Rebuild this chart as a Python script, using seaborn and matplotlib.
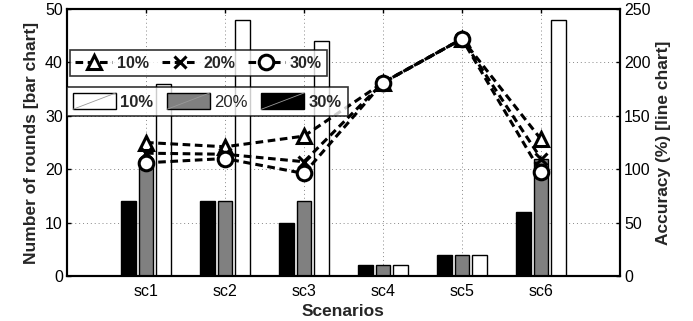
import numpy as np
import pandas as pd
import matplotlib
matplotlib.use("Agg")
import matplotlib.pyplot as plt
import seaborn as sns
from matplotlib.legend_handler import HandlerBase
from matplotlib.patches import Rectangle
from matplotlib.lines import Line2D

# ---- data -------------------------------------------------------------
scenarios = ["sc1", "sc2", "sc3", "sc4", "sc5", "sc6"]
loss_levels = ["10%", "20%", "30%"]

rounds_10 = [36, 48, 44, 2, 4, 48]
rounds_20 = [22, 14, 14, 2, 4, 22]
rounds_30 = [14, 14, 10, 2, 4, 12]

acc_10 = [125, 121, 131, 181, 222, 128]
acc_20 = [115, 114, 107, 181, 222, 110]
acc_30 = [106, 110, 96, 181, 222, 97]

# ---- style ------------------------------------------------------------
sns.set_theme(style="white")
plt.rcParams["font.family"] = ["Liberation Sans", "DejaVu Sans"]
plt.rcParams["font.size"] = 11

bar_colors = {"30%": "black", "20%": "#808080", "10%": "white"}

bars = pd.DataFrame({
    "Scenario": scenarios * 3,
    "Rounds": rounds_30 + rounds_20 + rounds_10,
    "Loss": ["30%"] * 6 + ["20%"] * 6 + ["10%"] * 6,
})

fig = plt.figure(figsize=(6.93, 3.21), dpi=100)
ax = fig.add_axes([67 / 693, 45 / 321, 553 / 693, 267 / 321])

sns.barplot(data=bars, x="Scenario", y="Rounds", hue="Loss",
            hue_order=["30%", "20%", "10%"], palette=bar_colors,
            width=0.66, gap=0.18, saturation=1, edgecolor="black",
            linewidth=1.0, legend=False, ax=ax, zorder=2)

ax.set_xlim(-1, 6)
ax.set_ylim(0, 50)
ax.set_yticks([0, 10, 20, 30, 40, 50])
ax.grid(True, linestyle=(0, (1, 3)), color="#888888", linewidth=0.7)
ax.set_axisbelow(True)
ax.set_xlabel("Scenarios", fontweight="bold", fontsize=12.5, labelpad=3)
ax.set_ylabel("Number of rounds [bar chart]", fontweight="bold",
              fontsize=12.5, labelpad=4)
ax.tick_params(axis="both", direction="in", length=3, width=1,
               labelsize=11.5, pad=3, colors="black")
ax.tick_params(axis="x", top=True, bottom=True, pad=6)
ax.tick_params(axis="y", left=True)
for s in ax.spines.values():
    s.set_color("black")
    s.set_linewidth(1.5)

# ---- accuracy lines on the right axis ---------------------------------
ax2 = ax.twinx()
xpos = np.arange(len(scenarios))
line_specs = [(acc_10, "^", 10.5, "10%"), (acc_20, "x", 8, "20%"),
              (acc_30, "o", 10.5, "30%")]
for vals, mk, ms, lab in line_specs:
    sns.lineplot(x=xpos, y=vals, ax=ax2, color="black", linewidth=2.2,
                 linestyle=(0, (2.5, 1.5)), marker=mk, markersize=ms,
                 markerfacecolor="white", markeredgecolor="black",
                 markeredgewidth=2.2, label=lab, legend=False, zorder=5)

ax2.set_ylim(0, 250)
ax2.set_yticks([0, 50, 100, 150, 200, 250])
ax2.set_ylabel("Accuracy (%) [line chart]", fontweight="bold",
               fontsize=12.5, labelpad=4)
ax2.tick_params(axis="y", direction="in", length=3, width=1,
                labelsize=11.5, pad=3, colors="black")
ax2.grid(False)
for s in ax2.spines.values():
    s.set_color("black")
    s.set_linewidth(1.5)
ax.set_xlim(-1, 6)


# ---- legends ----------------------------------------------------------
class SwatchHandler(HandlerBase):
    """Filled swatch with a thin diagonal, as in the bar legend."""
    def __init__(self, face):
        super().__init__()
        self.face = face

    def create_artists(self, legend, orig_handle, xdescent, ydescent,
                       width, height, fontsize, trans):
        r = Rectangle((-xdescent, -ydescent), width, height,
                      facecolor=self.face, edgecolor="black", lw=1.0,
                      transform=trans)
        d = Line2D([-xdescent, -xdescent + width],
                   [-ydescent, -ydescent + height], color="#999999",
                   lw=0.6, transform=trans)
        return [r, d]


line_handles = ax2.get_lines()[:3]
leg_lines = ax2.legend(line_handles, loss_levels, loc="upper left",
                       bbox_to_anchor=(0.005, 0.846), borderaxespad=0,
                       ncol=3, frameon=True, fancybox=False, handlelength=2.3,
                       handletextpad=0.3, columnspacing=0.8,
                       borderpad=0.35, prop={"weight": "bold", "size": 11.5})
leg_lines.get_frame().set_edgecolor("black")
leg_lines.get_frame().set_linewidth(1.2)
ax2.add_artist(leg_lines)

bar_handles = [Rectangle((0, 0), 1, 1) for _ in loss_levels]
handler_map = {bar_handles[0]: SwatchHandler("white"),
               bar_handles[1]: SwatchHandler("#808080"),
               bar_handles[2]: SwatchHandler("black")}
leg_bars = ax2.legend(bar_handles, loss_levels, loc="upper left",
                      bbox_to_anchor=(0.0, 0.708), borderaxespad=0,
                      ncol=3, frameon=True, fancybox=False, handlelength=2.6,
                      handleheight=1.15, handletextpad=0.25, columnspacing=0.8,
                      borderpad=0.35, handler_map=handler_map,
                      prop={"size": 12})
leg_bars.get_frame().set_edgecolor("black")
leg_bars.get_frame().set_linewidth(1.2)
for t, w in zip(leg_bars.get_texts(), ["bold", "normal", "bold"]):
    t.set_fontweight(w)

fig.savefig("out.png", dpi=100)
